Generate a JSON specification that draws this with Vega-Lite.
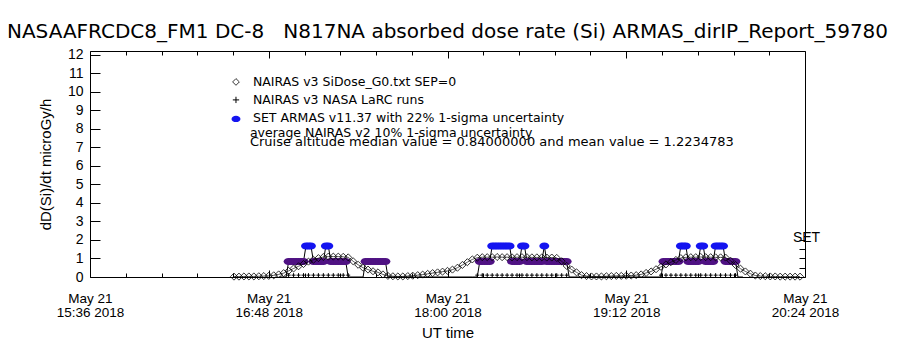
{
 "$schema": "https://vega.github.io/schema/vega-lite/v6.json",
 "width": 715, "height": 226,
 "autosize": {"type": "none"},
 "padding": {"left": 90, "top": 51, "right": 95, "bottom": 73},
 "background": "white",
 "title": {"text": "NASAAFRCDC8_FM1 DC-8\u00a0\u00a0\u00a0N817NA absorbed dose rate (Si) ARMAS_dirIP_Report_59780", "anchor": "middle", "fontSize": 20, "font": "DejaVu Sans", "fontWeight": "normal", "offset": 6, "color": "black"},
 "datasets": {
  "nairas": [
   {"t":"2018-05-21T16:34Z","d":0.02},{"t":"2018-05-21T16:36Z","d":0.02},{"t":"2018-05-21T16:38Z","d":0.03},{"t":"2018-05-21T16:40Z","d":0.03},{"t":"2018-05-21T16:42Z","d":0.03},{"t":"2018-05-21T16:44Z","d":0.04},{"t":"2018-05-21T16:46Z","d":0.05},{"t":"2018-05-21T16:48Z","d":0.06},{"t":"2018-05-21T16:50Z","d":0.09},{"t":"2018-05-21T16:52Z","d":0.14},{"t":"2018-05-21T16:54Z","d":0.21},{"t":"2018-05-21T16:56Z","d":0.33},{"t":"2018-05-21T16:58Z","d":0.46},{"t":"2018-05-21T17:00Z","d":0.58},{"t":"2018-05-21T17:02Z","d":0.7},{"t":"2018-05-21T17:04Z","d":0.83},{"t":"2018-05-21T17:06Z","d":0.93},{"t":"2018-05-21T17:08Z","d":1.02},{"t":"2018-05-21T17:10Z","d":1.08},{"t":"2018-05-21T17:12Z","d":1.1},{"t":"2018-05-21T17:14Z","d":1.1},{"t":"2018-05-21T17:16Z","d":1.1},{"t":"2018-05-21T17:18Z","d":1.09},{"t":"2018-05-21T17:20Z","d":1.06},{"t":"2018-05-21T17:22Z","d":0.85},{"t":"2018-05-21T17:24Z","d":0.66},{"t":"2018-05-21T17:26Z","d":0.5},{"t":"2018-05-21T17:28Z","d":0.4},{"t":"2018-05-21T17:30Z","d":0.31},{"t":"2018-05-21T17:32Z","d":0.25},{"t":"2018-05-21T17:34Z","d":0.14},{"t":"2018-05-21T17:36Z","d":0.06},{"t":"2018-05-21T17:38Z","d":0.04},{"t":"2018-05-21T17:40Z","d":0.03},{"t":"2018-05-21T17:42Z","d":0.03},{"t":"2018-05-21T17:44Z","d":0.05},{"t":"2018-05-21T17:46Z","d":0.07},{"t":"2018-05-21T17:48Z","d":0.1},{"t":"2018-05-21T17:50Z","d":0.13},{"t":"2018-05-21T17:52Z","d":0.17},{"t":"2018-05-21T17:54Z","d":0.21},{"t":"2018-05-21T17:56Z","d":0.25},{"t":"2018-05-21T17:58Z","d":0.29},{"t":"2018-05-21T18:00Z","d":0.33},{"t":"2018-05-21T18:02Z","d":0.4},{"t":"2018-05-21T18:04Z","d":0.5},{"t":"2018-05-21T18:06Z","d":0.65},{"t":"2018-05-21T18:08Z","d":0.8},{"t":"2018-05-21T18:10Z","d":0.95},{"t":"2018-05-21T18:12Z","d":1.04},{"t":"2018-05-21T18:14Z","d":1.07},{"t":"2018-05-21T18:16Z","d":1.07},{"t":"2018-05-21T18:18Z","d":1.07},{"t":"2018-05-21T18:20Z","d":1.08},{"t":"2018-05-21T18:22Z","d":1.07},{"t":"2018-05-21T18:24Z","d":1.07},{"t":"2018-05-21T18:26Z","d":1.06},{"t":"2018-05-21T18:28Z","d":1.07},{"t":"2018-05-21T18:30Z","d":1.07},{"t":"2018-05-21T18:32Z","d":1.07},{"t":"2018-05-21T18:34Z","d":1.06},{"t":"2018-05-21T18:36Z","d":1.06},{"t":"2018-05-21T18:38Z","d":1.06},{"t":"2018-05-21T18:40Z","d":1.05},{"t":"2018-05-21T18:42Z","d":1.05},{"t":"2018-05-21T18:44Z","d":1.03},{"t":"2018-05-21T18:46Z","d":0.85},{"t":"2018-05-21T18:48Z","d":0.6},{"t":"2018-05-21T18:50Z","d":0.4},{"t":"2018-05-21T18:52Z","d":0.25},{"t":"2018-05-21T18:54Z","d":0.1},{"t":"2018-05-21T18:56Z","d":0.05},{"t":"2018-05-21T18:58Z","d":0.03},{"t":"2018-05-21T19:00Z","d":0.03},{"t":"2018-05-21T19:02Z","d":0.03},{"t":"2018-05-21T19:04Z","d":0.04},{"t":"2018-05-21T19:06Z","d":0.05},{"t":"2018-05-21T19:08Z","d":0.06},{"t":"2018-05-21T19:10Z","d":0.06},{"t":"2018-05-21T19:12Z","d":0.07},{"t":"2018-05-21T19:14Z","d":0.08},{"t":"2018-05-21T19:16Z","d":0.1},{"t":"2018-05-21T19:18Z","d":0.14},{"t":"2018-05-21T19:20Z","d":0.22},{"t":"2018-05-21T19:22Z","d":0.3},{"t":"2018-05-21T19:24Z","d":0.42},{"t":"2018-05-21T19:26Z","d":0.55},{"t":"2018-05-21T19:28Z","d":0.68},{"t":"2018-05-21T19:30Z","d":0.8},{"t":"2018-05-21T19:32Z","d":0.92},{"t":"2018-05-21T19:34Z","d":1.02},{"t":"2018-05-21T19:36Z","d":1.06},{"t":"2018-05-21T19:38Z","d":1.07},{"t":"2018-05-21T19:40Z","d":1.07},{"t":"2018-05-21T19:42Z","d":1.08},{"t":"2018-05-21T19:44Z","d":1.07},{"t":"2018-05-21T19:46Z","d":1.07},{"t":"2018-05-21T19:48Z","d":1.06},{"t":"2018-05-21T19:50Z","d":1.06},{"t":"2018-05-21T19:52Z","d":1.05},{"t":"2018-05-21T19:54Z","d":0.88},{"t":"2018-05-21T19:56Z","d":0.65},{"t":"2018-05-21T19:58Z","d":0.45},{"t":"2018-05-21T20:00Z","d":0.3},{"t":"2018-05-21T20:02Z","d":0.18},{"t":"2018-05-21T20:04Z","d":0.08},{"t":"2018-05-21T20:06Z","d":0.05},{"t":"2018-05-21T20:08Z","d":0.04},{"t":"2018-05-21T20:10Z","d":0.03},{"t":"2018-05-21T20:12Z","d":0.03},{"t":"2018-05-21T20:14Z","d":0.02},{"t":"2018-05-21T20:16Z","d":0.02},{"t":"2018-05-21T20:18Z","d":0.02},{"t":"2018-05-21T20:20Z","d":0.02},{"t":"2018-05-21T20:22Z","d":0.02}
  ],
  "armas": [
   {"t":"2018-05-21T16:52Z","d":0},{"t":"2018-05-21T16:55Z","d":0},
   {"t":"2018-05-21T16:56Z","d":0.84},{"t":"2018-05-21T16:57Z","d":0.84},{"t":"2018-05-21T16:58Z","d":0.84},{"t":"2018-05-21T16:59Z","d":0.84},{"t":"2018-05-21T17:00Z","d":0.84},{"t":"2018-05-21T17:01Z","d":0.84},{"t":"2018-05-21T17:02Z","d":0.84},
   {"t":"2018-05-21T17:03Z","d":1.68},{"t":"2018-05-21T17:04Z","d":1.68},{"t":"2018-05-21T17:05Z","d":1.68},
   {"t":"2018-05-21T17:06Z","d":0.84},{"t":"2018-05-21T17:07Z","d":0.84},{"t":"2018-05-21T17:08Z","d":0.84},{"t":"2018-05-21T17:09Z","d":0.84},{"t":"2018-05-21T17:10Z","d":0.84},
   {"t":"2018-05-21T17:11Z","d":1.68},{"t":"2018-05-21T17:12Z","d":1.68},
   {"t":"2018-05-21T17:13Z","d":0.84},{"t":"2018-05-21T17:14Z","d":0.84},{"t":"2018-05-21T17:15Z","d":0.84},{"t":"2018-05-21T17:16Z","d":0.84},{"t":"2018-05-21T17:17Z","d":0.84},{"t":"2018-05-21T17:18Z","d":0.84},{"t":"2018-05-21T17:19Z","d":0.84},
   {"t":"2018-05-21T17:20Z","d":0},{"t":"2018-05-21T17:26Z","d":0},
   {"t":"2018-05-21T17:27Z","d":0.84},{"t":"2018-05-21T17:28Z","d":0.84},{"t":"2018-05-21T17:29Z","d":0.84},{"t":"2018-05-21T17:30Z","d":0.84},{"t":"2018-05-21T17:31Z","d":0.84},{"t":"2018-05-21T17:32Z","d":0.84},{"t":"2018-05-21T17:33Z","d":0.84},{"t":"2018-05-21T17:34Z","d":0.84},{"t":"2018-05-21T17:35Z","d":0.84},
   {"t":"2018-05-21T17:36Z","d":0},
   {"t":"2018-05-21T18:10Z","d":0},{"t":"2018-05-21T18:12Z","d":0},
   {"t":"2018-05-21T18:13Z","d":0.84},{"t":"2018-05-21T18:14Z","d":0.84},{"t":"2018-05-21T18:15Z","d":0.84},{"t":"2018-05-21T18:16Z","d":0.84},{"t":"2018-05-21T18:17Z","d":0.84},
   {"t":"2018-05-21T18:18Z","d":1.68},{"t":"2018-05-21T18:19Z","d":1.68},{"t":"2018-05-21T18:20Z","d":1.68},{"t":"2018-05-21T18:21Z","d":1.68},{"t":"2018-05-21T18:22Z","d":1.68},{"t":"2018-05-21T18:23Z","d":1.68},{"t":"2018-05-21T18:24Z","d":1.68},{"t":"2018-05-21T18:25Z","d":1.68},
   {"t":"2018-05-21T18:26Z","d":0.84},{"t":"2018-05-21T18:27Z","d":0.84},{"t":"2018-05-21T18:28Z","d":0.84},{"t":"2018-05-21T18:29Z","d":0.84},
   {"t":"2018-05-21T18:30Z","d":1.68},{"t":"2018-05-21T18:31Z","d":1.68},
   {"t":"2018-05-21T18:32Z","d":0.84},{"t":"2018-05-21T18:33Z","d":0.84},{"t":"2018-05-21T18:34Z","d":0.84},{"t":"2018-05-21T18:35Z","d":0.84},{"t":"2018-05-21T18:36Z","d":0.84},{"t":"2018-05-21T18:37Z","d":0.84},{"t":"2018-05-21T18:38Z","d":0.84},
   {"t":"2018-05-21T18:39Z","d":1.68},
   {"t":"2018-05-21T18:40Z","d":0.84},{"t":"2018-05-21T18:41Z","d":0.84},{"t":"2018-05-21T18:42Z","d":0.84},{"t":"2018-05-21T18:43Z","d":0.84},{"t":"2018-05-21T18:44Z","d":0.84},{"t":"2018-05-21T18:45Z","d":0.84},{"t":"2018-05-21T18:46Z","d":0.84},{"t":"2018-05-21T18:47Z","d":0.84},{"t":"2018-05-21T18:48Z","d":0.84},
   {"t":"2018-05-21T18:49Z","d":0},{"t":"2018-05-21T18:51Z","d":0},
   {"t":"2018-05-21T19:24Z","d":0},{"t":"2018-05-21T19:26Z","d":0},
   {"t":"2018-05-21T19:27Z","d":0.84},{"t":"2018-05-21T19:28Z","d":0.84},{"t":"2018-05-21T19:29Z","d":0.84},{"t":"2018-05-21T19:30Z","d":0.84},{"t":"2018-05-21T19:31Z","d":0.84},{"t":"2018-05-21T19:32Z","d":0.84},{"t":"2018-05-21T19:33Z","d":0.84},
   {"t":"2018-05-21T19:34Z","d":1.68},{"t":"2018-05-21T19:35Z","d":1.68},{"t":"2018-05-21T19:36Z","d":1.68},
   {"t":"2018-05-21T19:37Z","d":0.84},{"t":"2018-05-21T19:38Z","d":0.84},{"t":"2018-05-21T19:39Z","d":0.84},{"t":"2018-05-21T19:40Z","d":0.84},{"t":"2018-05-21T19:41Z","d":0.84},
   {"t":"2018-05-21T19:42Z","d":1.68},{"t":"2018-05-21T19:43Z","d":1.68},
   {"t":"2018-05-21T19:44Z","d":0.84},{"t":"2018-05-21T19:45Z","d":0.84},{"t":"2018-05-21T19:46Z","d":0.84},{"t":"2018-05-21T19:47Z","d":0.84},
   {"t":"2018-05-21T19:48Z","d":1.68},{"t":"2018-05-21T19:49Z","d":1.68},{"t":"2018-05-21T19:50Z","d":1.68},{"t":"2018-05-21T19:51Z","d":1.68},
   {"t":"2018-05-21T19:52Z","d":0.84},{"t":"2018-05-21T19:53Z","d":0.84},{"t":"2018-05-21T19:54Z","d":0.84},{"t":"2018-05-21T19:55Z","d":0.84},{"t":"2018-05-21T19:56Z","d":0.84},
   {"t":"2018-05-21T19:57Z","d":0},{"t":"2018-05-21T19:59Z","d":0}
  ],
  "larc": [
   {"t":"2018-05-21T16:56Z","d":0.1},{"t":"2018-05-21T16:58Z","d":0.1},{"t":"2018-05-21T17:00Z","d":0.1},{"t":"2018-05-21T17:02Z","d":0.1},{"t":"2018-05-21T17:04Z","d":0.1},{"t":"2018-05-21T17:06Z","d":0.1},{"t":"2018-05-21T17:08Z","d":0.1},{"t":"2018-05-21T17:10Z","d":0.1},{"t":"2018-05-21T17:12Z","d":0.1},{"t":"2018-05-21T17:14Z","d":0.1},{"t":"2018-05-21T17:16Z","d":0.1},{"t":"2018-05-21T17:18Z","d":0.1},{"t":"2018-05-21T17:20Z","d":0.1},
   {"t":"2018-05-21T18:12Z","d":0.1},{"t":"2018-05-21T18:14Z","d":0.1},{"t":"2018-05-21T18:16Z","d":0.1},{"t":"2018-05-21T18:18Z","d":0.1},{"t":"2018-05-21T18:20Z","d":0.1},{"t":"2018-05-21T18:22Z","d":0.1},{"t":"2018-05-21T18:24Z","d":0.1},{"t":"2018-05-21T18:26Z","d":0.1},{"t":"2018-05-21T18:28Z","d":0.1},{"t":"2018-05-21T18:30Z","d":0.1},{"t":"2018-05-21T18:32Z","d":0.1},{"t":"2018-05-21T18:34Z","d":0.1},{"t":"2018-05-21T18:36Z","d":0.1},{"t":"2018-05-21T18:38Z","d":0.1},{"t":"2018-05-21T18:40Z","d":0.1},{"t":"2018-05-21T18:42Z","d":0.1},{"t":"2018-05-21T18:44Z","d":0.1},{"t":"2018-05-21T18:46Z","d":0.1},{"t":"2018-05-21T18:48Z","d":0.1},
   {"t":"2018-05-21T19:26Z","d":0.1},{"t":"2018-05-21T19:28Z","d":0.1},{"t":"2018-05-21T19:30Z","d":0.1},{"t":"2018-05-21T19:32Z","d":0.1},{"t":"2018-05-21T19:34Z","d":0.1},{"t":"2018-05-21T19:36Z","d":0.1},{"t":"2018-05-21T19:38Z","d":0.1},{"t":"2018-05-21T19:40Z","d":0.1},{"t":"2018-05-21T19:42Z","d":0.1},{"t":"2018-05-21T19:44Z","d":0.1},{"t":"2018-05-21T19:46Z","d":0.1},{"t":"2018-05-21T19:48Z","d":0.1},{"t":"2018-05-21T19:50Z","d":0.1},{"t":"2018-05-21T19:52Z","d":0.1},{"t":"2018-05-21T19:54Z","d":0.1},{"t":"2018-05-21T19:56Z","d":0.1}
  ]
 },
 "layer": [
  {
   "data": {"name": "armas"},
   "mark": {"type": "line", "color": "black", "strokeWidth": 1},
   "encoding": {
    "x": {"field": "t", "type": "temporal", "scale": {"type": "utc", "domain": [1526916960000, 1526934240000]},
     "axis": {"orient": "bottom", "values": [1526916960000, 1526921280000, 1526925600000, 1526929920000, 1526934240000],
      "labelExpr": "[utcFormat(datum.value, '%b %d'), utcFormat(datum.value, '%H:%M %Y')]",
      "tickSize": -7, "labelPadding": 21, "labelBaseline": "top", "labelLineHeight": 14, "labelAlign": "center",
      "labelFlush": false, "labelOverlap": false, "labelBound": false, "labelFontSize": 13.5,
      "title": "UT time", "titleFontSize": 15, "titlePadding": 7}},
    "y": {"field": "d", "type": "quantitative", "scale": {"domain": [0, 12.2], "nice": false},
     "axis": {"orient": "left", "values": [0,1,2,3,4,5,6,7,8,9,10,11,12], "tickSize": -10, "labelPadding": 17,
      "labelFontSize": 14, "labelFlush": false, "labelOverlap": false, "labelBound": false,
      "title": "dD(Si)/dt microGy/h", "titleFontSize": 15, "titlePadding": 14}}
   }
  },
  {
   "data": {"name": "armas"},
   "transform": [{"filter": "datum.d > 0"}],
   "mark": {"type": "point", "filled": true, "size": 100, "opacity": 1, "strokeWidth": 0, "shape": "M-1,0A1,0.7,0,1,1,1,0A1,0.7,0,1,1,-1,0Z"},
   "encoding": {
    "x": {"field": "t", "type": "temporal",
     "axis": {"orient": "bottom", "values": [1526917824000,1526918688000,1526919552000,1526920416000,1526922144000,1526923008000,1526923872000,1526924736000,1526926464000,1526927328000,1526928192000,1526929056000,1526930784000,1526931648000,1526932512000,1526933376000],
      "tickSize": -4, "labels": false, "title": null}},
    "y": {"field": "d", "type": "quantitative",
     "axis": {"orient": "right", "values": [0.5, 1, 1.5, 2], "tickSize": -6, "labels": false,
      "title": "SET", "titleAngle": 0, "titleX": 1, "titleY": 186, "titleAlign": "center", "titleBaseline": "middle", "titleFontSize": 14}},
    "color": {"condition": {"test": "datum.d > 1.2", "value": "#1414f0"}, "value": "#4f1283"}
   }
  },
  {
   "data": {"name": "nairas"},
   "mark": {"type": "line", "color": "black", "strokeWidth": 0.8, "opacity": 0.8},
   "encoding": {
    "x": {"field": "t", "type": "temporal", "axis": null},
    "y": {"field": "d", "type": "quantitative", "axis": null}
   }
  },
  {
   "data": {"name": "nairas"},
   "mark": {"type": "point", "shape": "diamond", "filled": false, "size": 50, "strokeWidth": 0.8, "color": "black", "opacity": 1},
   "encoding": {
    "x": {"field": "t", "type": "temporal",
     "axis": {"orient": "top", "values": [1526916960000, 1526921280000, 1526925600000, 1526929920000, 1526934240000], "tickSize": -7, "labels": false, "title": null}},
    "y": {"field": "d", "type": "quantitative", "axis": null}
   }
  },
  {
   "data": {"name": "larc"},
   "mark": {"type": "point", "shape": "M0,-1L0,1M-1,0L1,0", "filled": false, "size": 16, "strokeWidth": 1, "color": "black", "opacity": 1},
   "encoding": {
    "x": {"field": "t", "type": "temporal",
     "axis": {"orient": "top", "values": [1526917824000,1526918688000,1526919552000,1526920416000,1526922144000,1526923008000,1526923872000,1526924736000,1526926464000,1526927328000,1526928192000,1526929056000,1526930784000,1526931648000,1526932512000,1526933376000],
      "tickSize": -4, "labels": false, "title": null}},
    "y": {"field": "d", "type": "quantitative", "axis": null}
   }
  },
  {
   "data": {"values": [{}]},
   "mark": {"type": "point", "shape": "diamond", "filled": false, "size": 45, "strokeWidth": 0.8, "color": "black", "opacity": 1},
   "encoding": {
    "x": {"datum": {"year": 2018, "month": 5, "date": 21, "hours": 16, "minutes": 34, "seconds": 48, "utc": true}, "type": "temporal", "axis": null},
    "y": {"datum": 10.53, "type": "quantitative", "axis": null}
   }
  },
  {
   "data": {"values": [{}]},
   "mark": {"type": "point", "shape": "M0,-1L0,1M-1,0L1,0", "filled": false, "size": 40, "strokeWidth": 1, "color": "black", "opacity": 1},
   "encoding": {
    "x": {"datum": {"year": 2018, "month": 5, "date": 21, "hours": 16, "minutes": 34, "seconds": 48, "utc": true}, "type": "temporal", "axis": null},
    "y": {"datum": 9.56, "type": "quantitative", "axis": null}
   }
  },
  {
   "data": {"values": [{}]},
   "mark": {"type": "point", "shape": "M-1,0A1,0.7,0,1,1,1,0A1,0.7,0,1,1,-1,0Z", "filled": true, "size": 80, "strokeWidth": 0, "color": "#1414f0", "opacity": 1},
   "encoding": {
    "x": {"datum": {"year": 2018, "month": 5, "date": 21, "hours": 16, "minutes": 34, "seconds": 48, "utc": true}, "type": "temporal", "axis": null},
    "y": {"datum": 8.53, "type": "quantitative", "axis": null}
   }
  },
  {
   "data": {"values": [{}]},
   "mark": {"type": "text", "text": "NAIRAS v3 SiDose_G0.txt SEP=0", "align": "left", "baseline": "middle", "font": "DejaVu Sans", "fontSize": 12.5, "color": "black"},
   "encoding": {
    "x": {"datum": {"year": 2018, "month": 5, "date": 21, "hours": 16, "minutes": 41, "seconds": 38, "utc": true}, "type": "temporal", "axis": null},
    "y": {"datum": 10.53, "type": "quantitative", "axis": null}
   }
  },
  {
   "data": {"values": [{}]},
   "mark": {"type": "text", "text": "NAIRAS v3 NASA LaRC runs", "align": "left", "baseline": "middle", "font": "DejaVu Sans", "fontSize": 12.5, "color": "black"},
   "encoding": {
    "x": {"datum": {"year": 2018, "month": 5, "date": 21, "hours": 16, "minutes": 41, "seconds": 38, "utc": true}, "type": "temporal", "axis": null},
    "y": {"datum": 9.56, "type": "quantitative", "axis": null}
   }
  },
  {
   "data": {"values": [{}]},
   "mark": {"type": "text", "text": "SET ARMAS v11.37 with 22% 1-sigma uncertainty", "align": "left", "baseline": "middle", "font": "DejaVu Sans", "fontSize": 12.5, "color": "black"},
   "encoding": {
    "x": {"datum": {"year": 2018, "month": 5, "date": 21, "hours": 16, "minutes": 41, "seconds": 38, "utc": true}, "type": "temporal", "axis": null},
    "y": {"datum": 8.58, "type": "quantitative", "axis": null}
   }
  },
  {
   "data": {"values": [{}]},
   "mark": {"type": "text", "text": "average NAIRAS v2 10% 1-sigma uncertainty", "align": "left", "baseline": "middle", "font": "DejaVu Sans", "fontSize": 12.5, "color": "black"},
   "encoding": {
    "x": {"datum": {"year": 2018, "month": 5, "date": 21, "hours": 16, "minutes": 40, "seconds": 24, "utc": true}, "type": "temporal", "axis": null},
    "y": {"datum": 7.8, "type": "quantitative", "axis": null}
   }
  },
  {
   "data": {"values": [{}]},
   "mark": {"type": "text", "text": "Cruise altitude median value = 0.84000000 and mean value = 1.2234783", "align": "left", "baseline": "middle", "font": "DejaVu Sans", "fontSize": 13, "color": "black"},
   "encoding": {
    "x": {"datum": {"year": 2018, "month": 5, "date": 21, "hours": 16, "minutes": 40, "seconds": 24, "utc": true}, "type": "temporal", "axis": null},
    "y": {"datum": 7.27, "type": "quantitative", "axis": null}
   }
  }
 ],
 "resolve": {"axis": {"x": "independent", "y": "independent"}},
 "config": {
  "view": {"stroke": "black", "strokeWidth": 1},
  "font": "Liberation Sans",
  "axis": {"domain": false, "grid": false, "tickColor": "black", "tickWidth": 1, "labelColor": "black", "titleColor": "black",
   "labelFont": "Liberation Sans", "titleFont": "Liberation Sans", "titleFontWeight": "normal"}
 }
}
